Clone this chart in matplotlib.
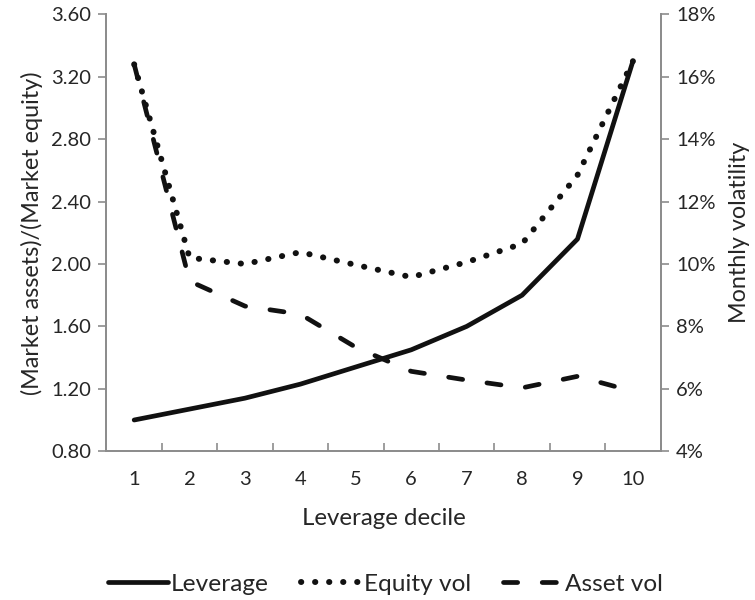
import matplotlib
matplotlib.use("Agg")
import matplotlib.pyplot as plt
from matplotlib.ticker import FuncFormatter, FixedLocator

plt.rcParams['font.family'] = ['Lato', 'DejaVu Sans']

deciles = [1, 2, 3, 4, 5, 6, 7, 8, 9, 10]
decile_labels = ["1", "2", "3", "4", "5", "6", "7", "8", "9", "10"]
leverage = [1.00, 1.07, 1.14, 1.23, 1.34, 1.45, 1.60, 1.80, 2.16, 3.30]
equity_vol = [16.4, 10.2, 10.0, 10.38, 9.97, 9.58, 10.06, 10.65, 12.85, 16.5]
asset_vol = [16.4, 9.45, 8.65, 8.39, 7.33, 6.56, 6.28, 6.03, 6.40, 5.92]

text_color = "#262626"
axis_color = "#8c8c8c"
line_color = "#111111"
lw = 3.4
dot_lw = 4.3

fig = plt.figure(figsize=(7.55, 6.0), dpi=100)
ax = fig.add_axes([0.141, 0.248, 0.734, 0.728])
ax2 = ax.twinx()

l1, = ax.plot(deciles, leverage, color=line_color, lw=lw,
              solid_capstyle='round', solid_joinstyle='round', label="Leverage")
l2, = ax2.plot(deciles, equity_vol, color=line_color, lw=dot_lw,
               dash_capstyle='round', dashes=(0.05, 2.3), label="Equity vol")
l3, = ax2.plot(deciles, asset_vol, color=line_color, lw=lw,
               dash_capstyle='round', dashes=(3.0, 5.2), label="Asset vol")

ax.set_xlim(0.5, 10.5)
ax.set_ylim(0.80, 3.60)
ax2.set_ylim(4, 18)

ax.set_yticks([0.80, 1.20, 1.60, 2.00, 2.40, 2.80, 3.20, 3.60])
ax.yaxis.set_major_formatter(FuncFormatter(lambda v, p: f"{v:.2f}"))
ax2.set_yticks([4, 6, 8, 10, 12, 14, 16, 18])
ax2.yaxis.set_major_formatter(FuncFormatter(lambda v, p: f"{v:.0f}%"))

ax.set_xticks(deciles)
ax.set_xticklabels(decile_labels)
ax.xaxis.set_minor_locator(FixedLocator([d + 0.5 for d in range(0, 11)]))
ax.tick_params(axis='x', which='major', length=0, pad=14)
ax.tick_params(axis='x', which='minor', length=6, width=1.2, color=axis_color, direction='in')

for a in (ax, ax2):
    a.spines['top'].set_visible(False)
    for side in ('left', 'right', 'bottom'):
        a.spines[side].set_color(axis_color)
        a.spines[side].set_linewidth(1.3)
    a.tick_params(axis='y', length=6, width=1.2, color=axis_color,
                  labelsize=14.5, labelcolor=text_color, pad=5)
ax.tick_params(axis='x', labelsize=14.5, labelcolor=text_color)

ax.set_xlabel("Leverage decile", fontsize=17.3, color=text_color, labelpad=15)
ax.set_ylabel("(Market assets)/(Market equity)", fontsize=16.8, color=text_color, labelpad=6)
ax2.set_ylabel("Monthly volatility", fontsize=16.8, color=text_color, labelpad=10)

leg = fig.legend(handles=[l1, l2, l3], loc='center', bbox_to_anchor=(0.511, 0.026),
                 ncol=3, frameon=False, fontsize=17.6, handlelength=2.45,
                 handletextpad=0.12, columnspacing=1.3, labelcolor=text_color)

fig.savefig("out.png", dpi=100, facecolor="white")
